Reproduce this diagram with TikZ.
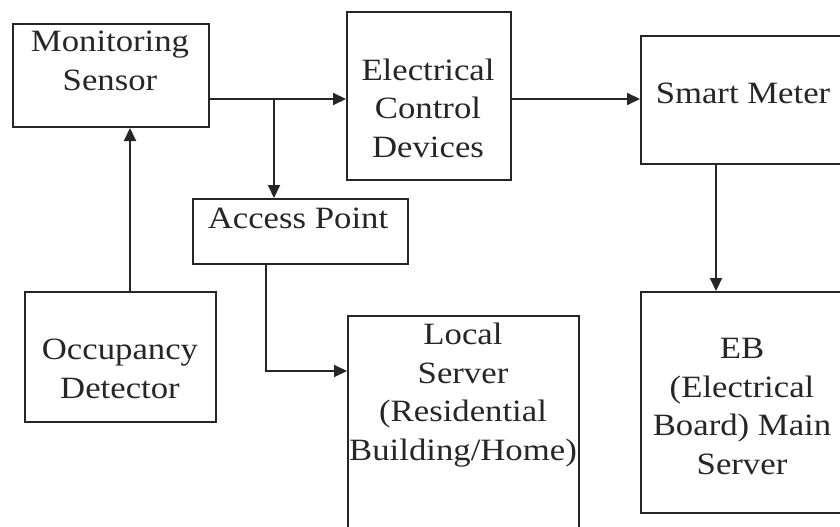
\documentclass[tikz,border=0pt]{standalone}
\usepackage{fontspec}
\setmainfont[FakeStretch=1.12]{Liberation Serif}
\usetikzlibrary{arrows.meta}
\definecolor{ink}{gray}{0.15}
\begin{document}
\begin{tikzpicture}[x=1pt,y=-1pt,
  box/.style={draw=ink, line width=2pt, inner sep=0pt, anchor=north west},
  txt/.style={font=\fontsize{31}{38.5}\selectfont, align=center, inner sep=0pt, anchor=base, text=ink},
  conn/.style={draw=ink, line width=2pt},
  arr/.style={conn, -{Triangle[length=13pt,width=12pt]}}]
\useasboundingbox (0,0) rectangle (840,527);
\fill[white] (0,0) rectangle (840,527);
\clip (0,0) rectangle (840,527);
% boxes
\node[box, minimum width=196pt, minimum height=103pt] (ms) at (12,23) {};
\node[box, minimum width=164pt, minimum height=168pt] (ecd) at (346,11) {};
\node[box, minimum width=230pt, minimum height=128pt] (sm) at (640,35) {};
\node[box, minimum width=215pt, minimum height=65pt] (ap) at (192,198) {};
\node[box, minimum width=191pt, minimum height=130pt] (od) at (24,291) {};
\node[box, minimum width=231pt, minimum height=260pt] (ls) at (347,315) {};
\node[box, minimum width=230pt, minimum height=221pt] (eb) at (640,291) {};
% texts (anchor = baseline of the last line)
\node[txt] (mst) at (110,90) {Monitoring\\Sensor};
\node[txt] (ecdt) at (428,157) {Electrical\\Control\\Devices};
\node[txt] (smt) at (743,103) {Smart Meter};
\node[txt] (apt) at (298,228) {Access Point};
\node[txt] (odt) at (120,398) {Occupancy\\Detector};
\node[txt] (lst) at (463,460) {Local\\Server\\(Residential\\Building/Home)};
\node[txt] (ebt) at (742,474) {EB\\(Electrical\\Board) Main\\Server};
% connectors
\coordinate (j1) at (274,99);
\coordinate (c1) at (130,0);
\coordinate (c2) at (716,0);
\coordinate (c3) at (266,371);
\draw[conn] (ms.east |- j1) -- (j1);
\draw[arr] (j1) -- (j1 -| ecd.west);
\draw[arr] (j1) -- (j1 |- ap.north);
\draw[arr] (ecd.east |- j1) -- (j1 -| sm.west);
\draw[arr] (od.north -| c1) -- (ms.south -| c1);
\draw[arr] (sm.south -| c2) -- (eb.north -| c2);
\draw[arr] (ap.south -| c3) -- (c3) -- (c3 -| ls.west);
\end{tikzpicture}
\end{document}
